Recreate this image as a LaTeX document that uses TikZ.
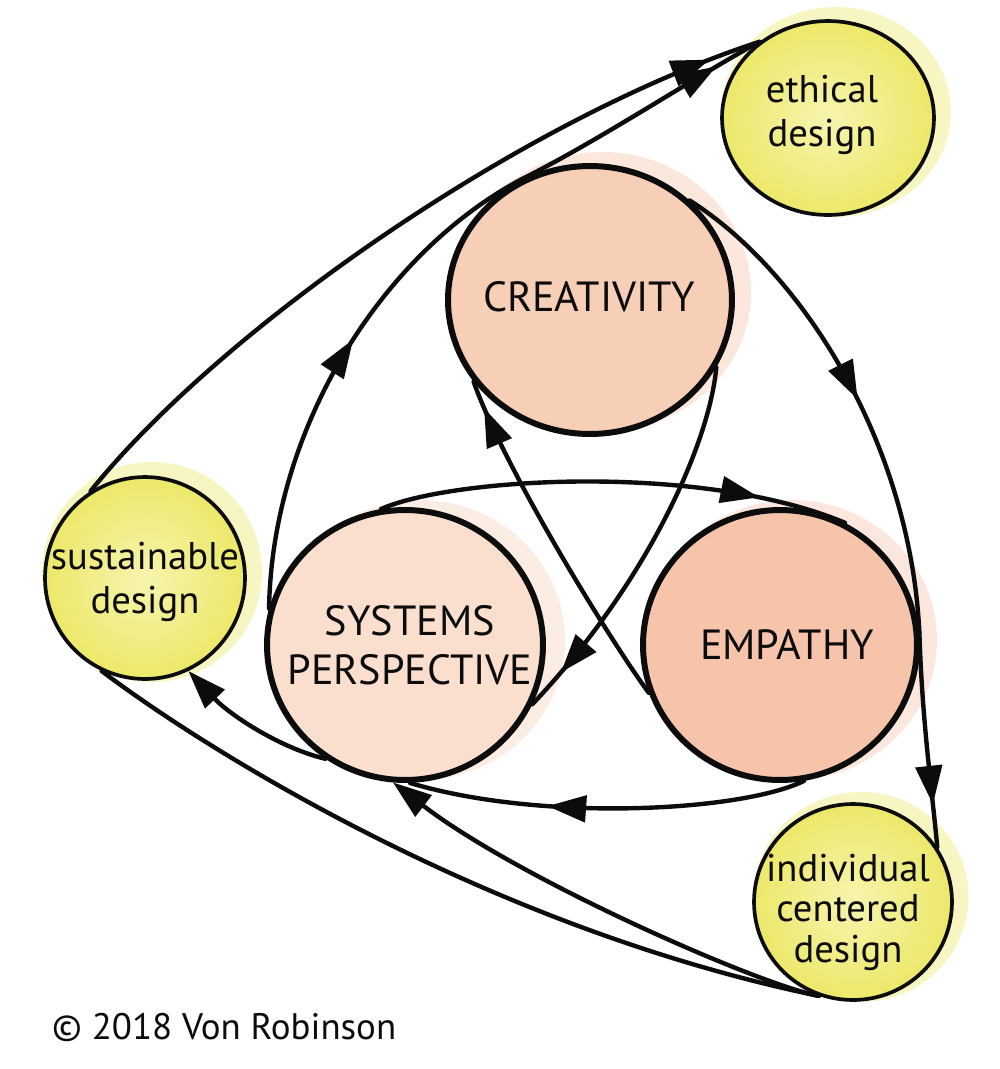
\documentclass[tikz,border=0pt]{standalone}
\usepackage{fontspec}
\setmainfont{PT Sans}
\usetikzlibrary{shapes.geometric,arrows.meta,decorations.markings}
\definecolor{creaC}{RGB}{247,206,182}
\definecolor{sysC}{RGB}{250,223,207}
\definecolor{empC}{RGB}{245,196,170}
\definecolor{yelC}{RGB}{236,232,105}
\definecolor{yelL}{RGB}{247,244,175}
\definecolor{inkC}{RGB}{12,12,12}
\begin{document}
\begin{tikzpicture}[x=0.02cm,y=-0.02cm,
  bigc/.style={ellipse, draw=inkC, line width=3.4pt, inner sep=0pt},
  smallc/.style={ellipse, draw=inkC, line width=2.1pt, inner sep=0pt, inner color=yelL, outer color=yelC},
  capslbl/.style={font=\fontsize{24}{28}\selectfont, align=center, text=inkC},
  lowlbl/.style={font=\fontsize{22}{25}\selectfont, align=center, text=inkC},
  conn/.style={draw=inkC, line width=2.5pt, line cap=round},
  tipat/.style={postaction={decorate}, decoration={markings, mark=at position #1 with {\arrow{Triangle[length=22pt,width=15pt]}}}},
  endtip/.style={-{Triangle[length=22pt,width=15pt]}}
]
\useasboundingbox (0,0) rectangle (1000,1069);
\fill[white] (0,0) rectangle (1000,1069);
% watercolour halos
\fill[creaC!50] (602,292) ellipse [x radius=2.98cm, y radius=2.8cm];
\fill[sysC!55] (420,640) ellipse [x radius=2.9cm, y radius=2.8cm];
\fill[empC!40] (792,640) ellipse [x radius=2.9cm, y radius=2.8cm];
\fill[yelC!40] (836,112) ellipse [x radius=2.3cm, y radius=2.1cm];
\fill[yelC!40] (152,572) ellipse [x radius=2.2cm, y radius=2.2cm];
\fill[yelC!40] (861,897) ellipse [x radius=2.15cm, y radius=2.1cm];
% circles
\node[bigc, fill=creaC, minimum width=5.68cm, minimum height=5.36cm] (crea) at (590,300) {};
\node[bigc, fill=sysC, minimum width=5.52cm, minimum height=5.4cm] (sys) at (405,645) {};
\node[bigc, fill=empC, minimum width=5.48cm, minimum height=5.4cm] (emp) at (780,645) {};
\node[smallc, minimum width=4.24cm, minimum height=3.88cm] (eth) at (828,118) {};
\node[smallc, minimum width=4.0cm, minimum height=4.04cm] (sus) at (145,578) {};
\node[smallc, minimum width=3.96cm, minimum height=3.92cm] (ind) at (853,902) {};
% labels
\node[capslbl] (creaT) at (589,297) {CREATIVITY};
\node[capslbl] (sysT) at (410,645) {SYSTEMS\\PERSPECTIVE};
\node[capslbl] (empT) at (787,645) {EMPATHY};
\node[lowlbl] (ethT) at (822,115) {ethical\\design};
\node[lowlbl] (susT) at (145,582) {sustainable\\design};
\node[lowlbl, font=\fontsize{22}{23}\selectfont] (indT) at (848,912) {individual\\centered\\design};
\node[anchor=west, font=\fontsize{21}{24}\selectfont, text=inkC] (copy) at (46,1027) {© 2018 Von Robinson};
% connectors
\draw[conn, tipat=0.935] (sus.122) .. controls (220,330) and (520,120) .. (eth.132);
\draw[conn, tipat=0.55] (sys.165) .. controls (272,430) and (380,255) .. (crea.120);
\draw[conn, tipat=0.82] (crea.120) .. controls (600,140) and (690,80) .. (eth.132);
\draw[conn, tipat=0.52] (crea.45) .. controls (800,270) and (910,440) .. (emp.5);
\draw[conn, tipat=0.8] (emp.5) .. controls (922,720) and (932,790) .. (ind.33);
\draw[conn, tipat=0.81] (sys.100) .. controls (450,478) and (700,462) .. (emp.62);
\draw[conn, tipat=0.65] (emp.280) .. controls (740,812) and (540,822) .. (sys.272);
\draw[conn, tipat=0.89] (crea.332) .. controls (710,440) and (650,580) .. (sys.335);
\draw[conn, tipat=0.92] (emp.200) .. controls (610,640) and (505,470) .. (crea.215);
\draw[conn, endtip] (sys.235) .. controls (280,748) and (230,715) .. (sus.295);
\draw[conn, endtip] (ind.250) .. controls (760,985) and (520,880) .. (sys.265);
\draw[conn] (sus.245) .. controls (220,760) and (500,930) .. (ind.250);
\end{tikzpicture}
\end{document}
